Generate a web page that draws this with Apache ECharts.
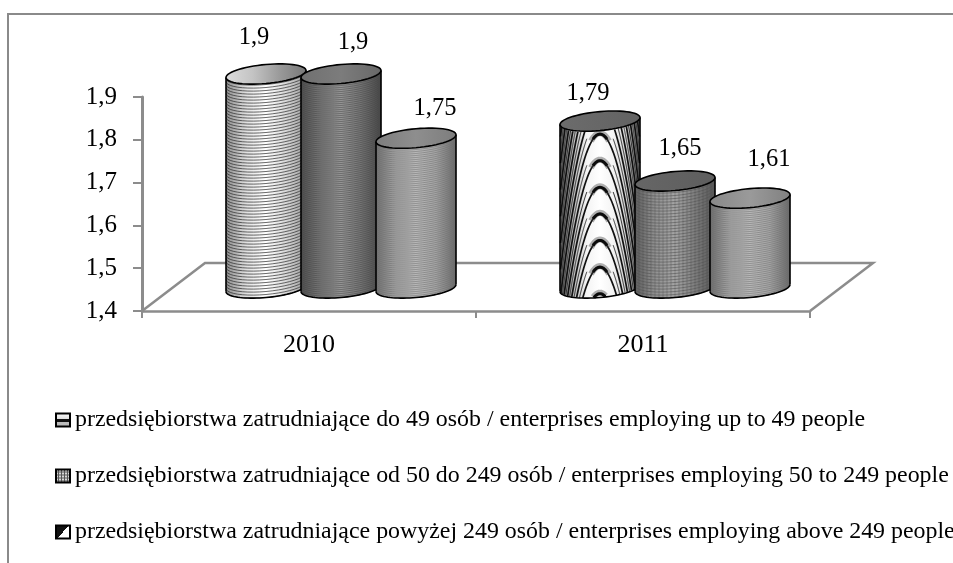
<!DOCTYPE html>
<html><head><meta charset="utf-8">
<style>html,body{margin:0;padding:0;background:#fff}#c{width:953px;height:563px;position:relative}
#fl{position:absolute;z-index:10;left:7px;top:13px;width:946px;height:550px;border-left:2px solid #8a8a8a;border-top:2px solid #8a8a8a;box-sizing:border-box;pointer-events:none}</style>
<script src="https://cdn.jsdelivr.net/npm/echarts@6/dist/echarts.min.js"></script>
</head><body><div id="w" style="position:relative;width:953px;height:563px;overflow:hidden"><div id="c"></div><div id="fl"></div></div>
<script>
const years = ['2010', '2011'];
const small = [1.9, 1.79];
const medium = [1.9, 1.65];
const large = [1.75, 1.61];
const seriesNames = [
  'przedsiębiorstwa zatrudniające do 49 osób / enterprises employing up to 49 people',
  'przedsiębiorstwa zatrudniające od 50 do 249 osób / enterprises employing 50 to 249 people',
  'przedsiębiorstwa zatrudniające powyżej 249 osób / enterprises employing above 249 people'
];
const yTicks = {min: 1.4, max: 1.9, interval: 0.1};

const FONT = '"Liberation Serif","Times New Roman",serif';
const GREY = '#8c8c8c';
const DEPTH_X = 63, DEPTH_Y = 48;
const OFF_X = 32, OFF_Y = -23, STEP = 75, RX = 40, RY = 9.5, TILT = Math.tan(5 * Math.PI / 180);
const labelNudge = [[[-12, -1], [-12, 7]], [[12, 4], [5, 3]], [[19, 5], [19, -4]]];

function vgrad(stops) {
  return {type: 'linear', x: 0, y: 0, x2: 1, y2: 0, colorStops: stops.map((c, i) => ({offset: i / (stops.length - 1), color: c}))};
}
const looks = [
  [
    {body: vgrad(['#8a8a8a', '#e0e0e0', '#ffffff', '#d8d8d8', '#9a9a9a']), top: vgrad(['#dcdcdc', '#c4c4c4', '#9a9a9a', '#777777']), arc: 3, arcColor: '#2a2a2a', arcW: 0.7},
    {body: vgrad(['#585858', '#848484', '#a0a0a0', '#808080', '#505050']), top: vgrad(['#6c6c6c', '#626262']), arc: 2, arcColor: '#4c4c4c', arcW: 0.5},
  ],
  [
    {body: vgrad(['#4e4e4e', '#7a7a7a', '#969696', '#747474', '#484848']), top: vgrad(['#707070', '#7c7c7c', '#686868']), arc: 2, arcColor: '#444444', arcW: 0.5},
    {body: vgrad(['#5e5e5e', '#909090', '#a4a4a4', '#7e7e7e', '#565656']), top: vgrad(['#666666', '#5e5e5e']), arc: 3, arcColor: '#555555', arcW: 0.6, stripes: 4}
  ],
  [
    {body: vgrad(['#707070', '#a4a4a4', '#b8b8b8', '#a4a4a4', '#6a6a6a']), top: vgrad(['#7d7d7d', '#8e8e8e', '#7d7d7d']), arc: 2, arcColor: '#6c6c6c', arcW: 0.5},
    {body: vgrad(['#6c6c6c', '#a8a8a8', '#b8b8b8', '#a4a4a4', '#686868']), top: vgrad(['#888888', '#9a9a9a', '#808080']), arc: 2, arcColor: '#6c6c6c', arcW: 0.5}
  ]
];
function pt(cx, cy, t) {
  const dx = RX * Math.cos(t);
  return [cx + dx, cy + RY * Math.sin(t) - dx * TILT];
}
function arc(cx, cy, a, b, n) {
  const out = [];
  for (let i = 0; i <= n; i++) out.push(pt(cx, cy, a + (b - a) * i / n));
  return out;
}
function line(points, color, w) {
  return {type: 'polyline', shape: {points}, style: {stroke: color, fill: null, lineWidth: w}, silent: true};
}
function rimY(cx, cy, d) {
  return pt(cx, cy, Math.acos(Math.max(-1, Math.min(1, d / RX))))[1];
}
function moire(cx, yt, yb) {
  const out = [];
  const SP = 26.6, K = 3.1;
  for (let j = -7; j < 7; j += 0.5) {
    const whole = Number.isInteger(j);
    const apex = yt + 13 + j * SP;
    [-1, 1].forEach(sgn => {
      const pts = [];
      for (let h = 0; h < 240; h += 1) {
        const d = K * Math.sqrt(h);
        if (d > RX - 0.5) break;
        if (!whole && d < 13) continue;
        const x = sgn * d, y = apex + h;
        if (y >= rimY(cx, yt, x) && y <= rimY(cx, yb, x)) pts.push([cx + x, y]);
      }
      if (pts.length > 1) out.push(line(pts, whole ? '#111111' : '#333333', whole ? 1.7 : 1));
    });
    if (whole && j >= 0 && apex < yb + 6) {
      const cap = [], cap2 = [];
      for (let k = -8; k <= 8; k++) {
        const u = k / 8;
        const h = 5 * u * u;
        if (apex + h <= rimY(cx, yb, 7 * u)) cap.push([cx + 7 * u, apex + h]);
        const h2 = 8 * u * u;
        if (apex - 1 + h2 <= rimY(cx, yb, 9 * u)) cap2.push([cx + 9 * u, apex - 1 + h2]);
      }
      out.push(line(cap2, 'rgba(60,60,60,0.4)', 6));
      out.push(line(cap, '#0c0c0c', 3));
    }
  }
  return out;
}
function renderCylinder(si) {
  return function (params, api) {
    const i = api.value(0), v = api.value(1);
    const base = api.coord([i, yTicks.min]), head = api.coord([i, v]);
    const cx = base[0] + OFF_X + (si - 1) * STEP;
    const yb = base[1] + OFF_Y, yt = head[1] + OFF_Y;
    const look = looks[si][i];
    const kids = [];
    const bodyPts = arc(cx, yb, 0, Math.PI, 40).concat(arc(cx, yt, Math.PI, 0, 40));
    if (si === 0 && i === 1) {
      kids.push({type: 'polygon', shape: {points: bodyPts}, style: {fill: vgrad(['#6e6e6e', '#b8b8b8', '#f4f4f4', '#ffffff', '#f4f4f4', '#d0d0d0', '#6e6e6e'])}});
      moire(cx, yt, yb).forEach(k => kids.push(k));
    } else {
      kids.push({type: 'polygon', shape: {points: bodyPts}, style: {fill: look.body}});
      for (let y = yb; y > yt; y -= look.arc) {
        kids.push(line(arc(cx, y, 0, Math.PI, 20), look.arcColor, look.arcW));
      }
      if (look.stripes) {
        for (let d = -RX + 4; d < RX; d += look.stripes) {
          const t = Math.acos(d / RX);
          kids.push(line([pt(cx, yt, t), pt(cx, yb, t)], 'rgba(70,70,70,0.35)', 1));
        }
      }
    }
    kids.push(line(arc(cx, yb, 0, Math.PI, 40), '#000000', 1.6));
    kids.push(line([pt(cx, yt, 0), pt(cx, yb, 0)], '#000000', 1.6));
    kids.push(line([pt(cx, yt, Math.PI), pt(cx, yb, Math.PI)], '#000000', 1.6));
    kids.push({type: 'polygon', shape: {points: arc(cx, yt, 0, 2 * Math.PI, 60)},
      style: {fill: look.top, stroke: '#000000', lineWidth: 1.6}});
    const n = labelNudge[si][i];
    kids.push({type: 'text', x: cx + n[0], y: yt - RY - 13 + n[1],
      style: {text: String(v).replace('.', ','), font: '24.5px ' + FONT, fill: '#000000', align: 'center', verticalAlign: 'bottom'}, silent: true, z2: 10});
    return {type: 'group', children: kids};
  };
}
function renderFloor(params) {
  const c = params.coordSys;
  const b = c.y + c.height;
  return {type: 'polyline', shape: {points: [
    [c.x, b], [c.x + DEPTH_X, b - DEPTH_Y], [c.x + c.width + DEPTH_X, b - DEPTH_Y], [c.x + c.width, b]
  ]}, style: {stroke: GREY, fill: null, lineWidth: 2.5}, silent: true};
}
function checker() {
  const p = document.createElement('canvas');
  p.width = p.height = 3;
  const g = p.getContext('2d');
  g.fillStyle = '#d8d8d8'; g.fillRect(0, 0, 3, 3);
  g.fillStyle = '#555'; g.fillRect(2, 0, 1, 3); g.fillRect(0, 2, 3, 1);
  return {image: p, repeat: 'repeat'};
}
const swatches = [
  {type: 'linear', x: 0, y: 0, x2: 0, y2: 1, colorStops: [
    {offset: 0, color: '#fff'}, {offset: .45, color: '#ddd'}, {offset: .45, color: '#111'}, {offset: .62, color: '#111'}, {offset: .62, color: '#bbb'}, {offset: 1, color: '#bbb'}]},
  checker(),
  {type: 'linear', x: 0, y: 0, x2: 1, y2: 1, colorStops: [
    {offset: 0, color: '#111'}, {offset: .5, color: '#111'}, {offset: .5, color: '#fff'}, {offset: 1, color: '#fff'}]}
];
const chart = echarts.init(document.getElementById('c'), null, {renderer: 'canvas'});
const values = [small, medium, large];
chart.setOption({
  animation: false,
  backgroundColor: '#fff',
  grid: {left: 142, right: 143, top: 97, bottom: 252, containLabel: false},
  legend: {
    left: 55, top: 408, padding: 0, orient: 'vertical', itemWidth: 14, itemHeight: 13, itemGap: 32, selectedMode: false,
    textStyle: {fontFamily: FONT, fontSize: 23.9, color: '#000'},
    data: seriesNames.map((name, i) => ({name, icon: 'rect', itemStyle: {color: swatches[i], borderColor: '#000', borderWidth: 2}}))
  },
  xAxis: {
    type: 'category', data: years,
    axisLine: {lineStyle: {color: GREY, width: 2.5}},
    axisTick: {show: true, alignWithLabel: false, length: 7, lineStyle: {color: GREY, width: 2}},
    axisLabel: {fontFamily: FONT, fontSize: 26, color: '#000', margin: 21}
  },
  yAxis: {
    type: 'value', min: yTicks.min, max: yTicks.max, interval: yTicks.interval,
    axisLine: {show: true, lineStyle: {color: GREY, width: 3}},
    axisTick: {show: true, length: 9, lineStyle: {color: GREY, width: 2}},
    splitLine: {show: false},
    axisLabel: {fontFamily: FONT, fontSize: 25, color: '#000', margin: 25, padding: [5, 0, 0, 0], formatter: v => v.toFixed(1).replace('.', ',')}
  },
  series: [
    {type: 'custom', name: 'floor', coordinateSystem: 'cartesian2d', renderItem: renderFloor, data: [[0, 1.4]], silent: true, z: 1, clip: false},
  ].concat(seriesNames.map((name, si) => ({
    type: 'custom', name, coordinateSystem: 'cartesian2d', z: 2 + si, clip: false,
    renderItem: renderCylinder(si), itemStyle: {color: '#888'},
    encode: {x: 0, y: 1},
    data: years.map((y, i) => [i, values[si][i]])
  })))
});
</script></body></html>
